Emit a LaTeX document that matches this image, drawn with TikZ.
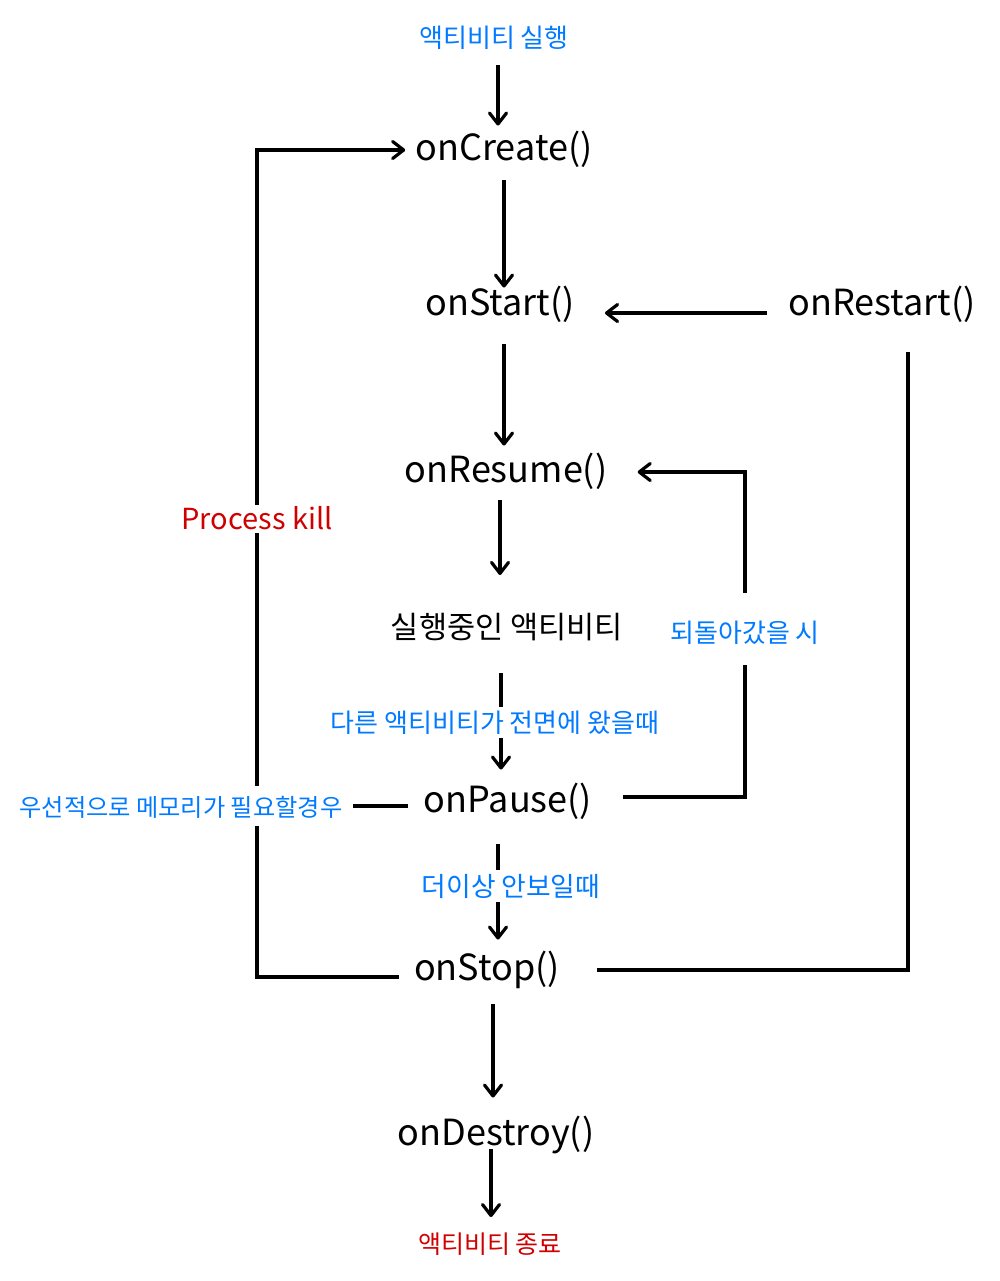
\documentclass[tikz,border=0pt]{standalone}
\usepackage{fontspec}
\setmainfont{Noto Sans CJK KR}
\usetikzlibrary{arrows.meta}
\definecolor{noteblue}{RGB}{0,122,255}
\definecolor{notered}{RGB}{208,0,0}
\pgfdeclarelayer{background}
\pgfsetlayers{background,main}

\begin{document}
\begin{tikzpicture}[
    x=0.5pt, y=-0.5pt,
    every node/.style={inner sep=0pt, text height=1em, text depth=0em},
    method/.style={font=\fontsize{18}{18}\selectfont},
    note/.style={font=\fontsize{13}{13}\selectfont, text=noteblue},
    endnote/.style={font=\fontsize{12.5}{12.5}\selectfont, text=notered},
    flow/.style={line width=1.6pt},
    >={Straight Barb[length=5.5pt,width=8.5pt,round]}
  ]
    \useasboundingbox (0,0) rectangle (1000,1281);
    % lifecycle callbacks
    \node[note] (begin) at (494,37) {액티비티 실행};
    \node[method] (create) at (504,150) {onCreate()};
    \node[method] (start) at (500,305) {onStart()};
    \node[method] (restart) at (882,305) {onRestart()};
    \node[method] (resume) at (506,472) {onResume()};
    \node[font=\fontsize{15.3}{15.3}\selectfont] (running) at (507,628) {실행중인 액티비티};
    \node[note] (back) at (745,632) {되돌아갔을 시};
    \node[method] (pause) at (508,802) {onPause()};
    \node[method] (stop) at (487,970) {onStop()};
    \node[method] (destroy) at (496,1135) {onDestroy()};
    \node[endnote] (finish) at (490,1243) {액티비티 종료};
    % labels on the kill loop
    \node[font=\fontsize{14.5}{14.5}\selectfont, text=notered, fill=white, inner sep=2pt] (kill) at (257,519) {Process kill};
    \node[note, font=\fontsize{12.1}{12.1}\selectfont, fill=white, inner sep=5.2pt] (memory) at (181,806) {우선적으로 메모리가 필요할경우};

    \begin{pgfonlayer}{background}
    \draw[flow, ->, shorten <=9pt, shorten >=7pt] ([xshift=2pt]begin.south) -- ([xshift=2pt]begin.south |- create.north);
    \draw[flow, ->, shorten <=10pt, shorten >=3.5pt] (create.south) -- (create.south |- start.north);
    \draw[flow, ->, shorten <=14.5pt, shorten >=8pt] ([xshift=2pt]start.south) -- ([xshift=2pt]start.south |- resume.north);
    \draw[flow, ->, shorten <=9pt, shorten >=21.3pt] ([xshift=-3pt]resume.south) -- ([xshift=-3pt]resume.south |- running.north);
    \draw[flow, ->, shorten <=17.3pt, shorten >=11pt] ([xshift=-3pt]running.south) -- node[note, pos=0.55, fill=white, inner sep=2.75pt, xshift=-3pt] {다른 액티비티가 전면에 왔을때} ([xshift=-3pt]running.south |- pause.north);
    \draw[flow, ->, shorten <=16pt, shorten >=10pt] ([xshift=-5pt]pause.south) -- node[note, font=\fontsize{13.4}{13.4}\selectfont, fill=white, inner sep=3pt, xshift=6.5pt] {더이상 안보일때} ([xshift=-5pt]pause.south |- stop.north);
    \draw[flow, ->, shorten <=12pt, shorten >=13.5pt] ([xshift=3pt]stop.south) -- ([xshift=3pt]stop.south |- destroy.north);
    \draw[flow, ->, shorten <=2pt, shorten >=7.75pt] ([xshift=-2.5pt]destroy.south) -- ([xshift=-2.5pt]destroy.south |- finish.north);
    % side loops
    \draw[flow, ->, shorten <=10.5pt, shorten >=15pt] ([yshift=-4pt]restart.west) -- ([yshift=-4pt]restart.west -| start.east);
    \draw[flow, ->, shorten <=14.5pt, shorten >=15pt] (back.north) |- (resume.east);
    \draw[flow, shorten <=11.5pt, shorten >=15.5pt] (back.south) |- ([yshift=2.5pt]pause.east);
    \draw[flow, shorten <=18.5pt, shorten >=18.5pt] (stop.east) -| ([xshift=13pt]restart.south);
    \draw[flow, ->, shorten <=7.5pt, shorten >=5pt] ([yshift=-3.5pt]stop.west) -| (kill.center) |- (create.west);
    \draw[flow, shorten >=8pt] (memory.east) -- (memory.east -| pause.west);
    \end{pgfonlayer}
\end{tikzpicture}
\end{document}
